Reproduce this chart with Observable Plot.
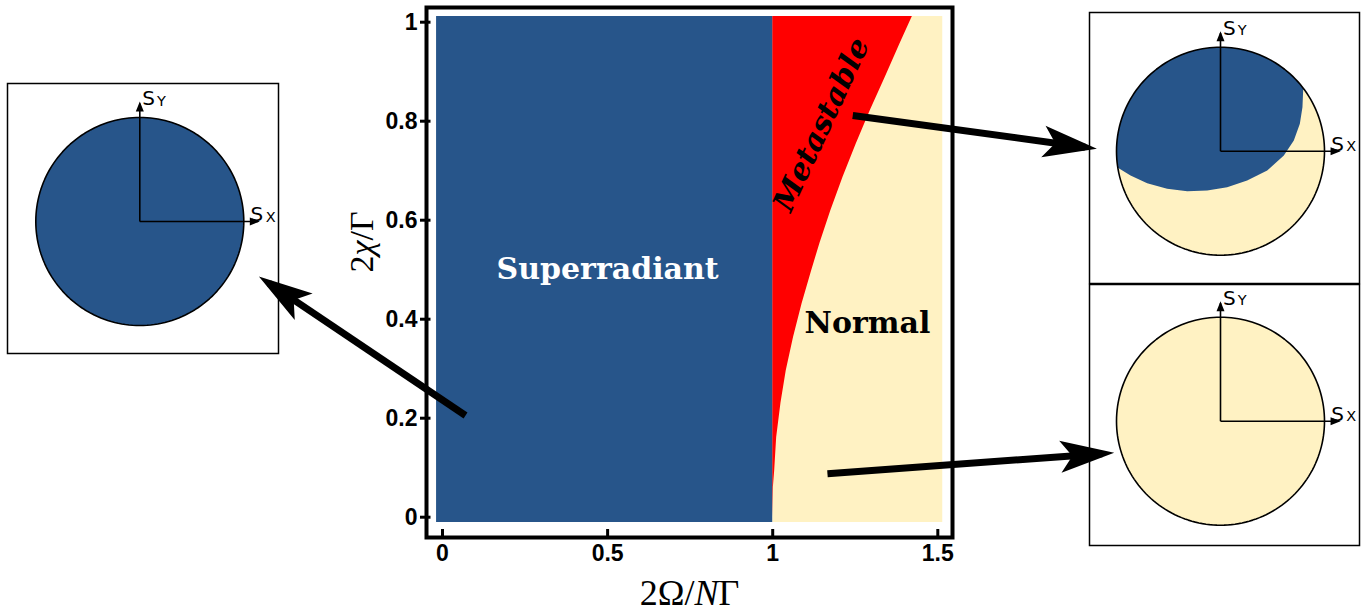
<!DOCTYPE html>
<html><head><meta charset="utf-8">
<script src="https://cdn.jsdelivr.net/npm/d3@7"></script>
<script src="https://cdn.jsdelivr.net/npm/@observablehq/plot@0.6"></script>
<style>
html,body{margin:0;padding:0;background:#fff;}
#root{position:relative;width:1370px;height:616px;overflow:hidden;}
</style></head><body><div id="root"></div>
<script>
// ---------------- data ----------------
const xTicks = [0, 0.5, 1, 1.5];
const yTicks = [0, 0.2, 0.4, 0.6, 0.8, 1];
const xLabel = "2Ω/NΓ";
const yLabel = "2χ/Γ";

// phase regions (in 2Ω/NΓ , 2χ/Γ units)
const regionNames = ["Superradiant", "Normal"];
const regionX1 = [-0.018, 1.0];
const regionX2 = [1.0, 1.515];
const regionY1 = [-0.0107, -0.0107];
const regionY2 = [1.0115, 1.0115];
const regionColors = ["#27558A", "#FFF2C3"];
const metastableColor = "#FF0000";

// metastable / normal boundary
const boundaryY = [0, 0.060, 0.094, 0.161, 0.230, 0.296, 0.363, 0.431, 0.498, 0.553, 0.619, 0.687, 0.754, 0.822, 0.889, 0.957, 1.0115];
const boundaryX = [1.0, 1.002, 1.006, 1.012, 1.025, 1.041, 1.063, 1.089, 1.118, 1.143, 1.176, 1.213, 1.253, 1.296, 1.341, 1.386, 1.423];
const metastableLeftX = 1.0;

// region labels
const labelText = ["Superradiant", "Normal", "Metastable"];
const labelX = [0.5, 1.287, 1.148];
const labelY = [0.5, 0.392, 0.793];

// arrows (main-chart units; they reach out to the insets)
const arrowX1 = [0.0697, 1.2424, 1.1658];
const arrowY1 = [0.2055, 0.8115, 0.0877];
const arrowX2 = [-0.526, 1.9458, 1.998];
const arrowY2 = [0.4727, 0.7475, 0.1283];

// metastable inset: boundary of the superradiant (blue) part, unit-sphere units
const metaBoundaryU = [-0.994, -0.865, -0.705, -0.513, -0.32, -0.128, 0.064, 0.256, 0.449, 0.609, 0.705, 0.763, 0.788, 0.795];
const metaBoundaryV = [-0.154, -0.234, -0.308, -0.362, -0.385, -0.378, -0.346, -0.282, -0.186, -0.042, 0.103, 0.263, 0.423, 0.590];
const axisLength = 1.135;

// ---------------- build ----------------
const root = document.getElementById("root");
const blue = regionColors[0], cream = regionColors[1];

const regions = regionNames.map((name, i) => ({name, x1: regionX1[i], x2: regionX2[i], y1: regionY1[i], y2: regionY2[i]}));
const boundary = boundaryY.map((y, i) => ({y, x: boundaryX[i]}));
const labels = labelText.map((t, i) => ({t, x: labelX[i], y: labelY[i]}));
const arrows = arrowX1.map((x1, i) => ({x1, y1: arrowY1[i], x2: arrowX2[i], y2: arrowY2[i]}));

const circle = d3.range(0, 361, 2).map(a => ({x: Math.cos(a * Math.PI / 180), y: Math.sin(a * Math.PI / 180)}));

function bluePolygon() {
  const pts = metaBoundaryU.map((u, i) => ({x: u, y: metaBoundaryV[i]}));
  const a0 = Math.atan2(pts[pts.length - 1].y, pts[pts.length - 1].x) * 180 / Math.PI;
  let a1 = Math.atan2(pts[0].y, pts[0].x) * 180 / Math.PI;
  if (a1 < a0) a1 += 360;
  const arc = d3.range(a0, a1, 2).concat([a1]).map(a => ({x: Math.cos(a * Math.PI / 180), y: Math.sin(a * Math.PI / 180)}));
  return pts.concat(arc);
}

function addMarker(svgEl, id, d, box) {
  const s = d3.select(svgEl);
  const mk = s.append("defs").append("marker")
    .attr("id", id).attr("markerUnits", "userSpaceOnUse")
    .attr("viewBox", box.join(" ")).attr("markerWidth", box[2]).attr("markerHeight", box[3])
    .attr("refX", 0).attr("refY", 0).attr("orient", "auto").attr("overflow", "visible");
  mk.append("path").attr("d", d).attr("fill", "black");
  s.selectAll('g[aria-label="link"] path').attr("marker-end", `url(#${id})`);
}

function italicize(svgEl, full, parts) {
  d3.select(svgEl).selectAll("text").filter(function () { return this.textContent === full; })
    .each(function () {
      const t = d3.select(this);
      t.text(null);
      parts.forEach(([s, it]) => t.append("tspan").attr("font-style", it ? "italic" : null).text(s));
    });
}

const R = 104;
let insetCount = 0;
function sphere({left, top, right, bottom, cx, cy, base, partial}) {
  const m = 2;
  const marks = [
    Plot.line(circle, {x: "x", y: "y", fill: base, stroke: "none"})
  ];
  if (partial) marks.push(Plot.line(bluePolygon(), {x: "x", y: "y", fill: blue, stroke: "none"}));
  marks.push(
    Plot.line(circle, {x: "x", y: "y", stroke: "black", strokeWidth: 1.6}),
    Plot.link([{x1: 0, y1: 0, x2: 0, y2: axisLength}, {x1: 0, y1: 0, x2: axisLength, y2: 0}],
      {x1: "x1", y1: "y1", x2: "x2", y2: "y2", stroke: "black", strokeWidth: 1.6}),
    Plot.text(["S"], {text: d => d, x: () => 0.023, y: () => 1.12, textAnchor: "start", lineAnchor: "bottom", fontSize: 20, fontFamily: "DejaVu Sans, sans-serif", fill: "black"}),
    Plot.text(["Y"], {text: d => d, x: () => 0.165, y: () => 1.115, textAnchor: "start", lineAnchor: "bottom", fontSize: 14.5, fontFamily: "DejaVu Sans, sans-serif", fill: "black"}),
    Plot.text(["S"], {text: d => d, x: () => 1.064, y: () => 0.005, textAnchor: "start", lineAnchor: "bottom", fontSize: 20, fontFamily: "DejaVu Sans, sans-serif", fill: "black"}),
    Plot.text(["X"], {text: d => d, x: () => 1.21, y: () => 0.0, textAnchor: "start", lineAnchor: "bottom", fontSize: 14.5, fontFamily: "DejaVu Sans, sans-serif", fill: "black"}),
    Plot.frame({stroke: "black", strokeWidth: 1.5})
  );
  const p = Plot.plot({
    width: right - left + 2 * m, height: bottom - top + 2 * m, margin: m,
    x: {domain: [(left - cx) / R, (right - cx) / R], axis: null},
    y: {domain: [(cy - bottom) / R, (cy - top) / R], axis: null},
    style: {background: "transparent", overflow: "visible"},
    marks
  });
  addMarker(p, "small" + (insetCount++), "M2,0L-8,-4L-8,4Z", [-9, -5, 12, 10]);
  p.style.position = "absolute";
  p.style.left = (left - m) + "px";
  p.style.top = (top - m) + "px";
  p.style.maxWidth = "none";
  root.appendChild(p);
}

sphere({left: 7, top: 83, right: 278, bottom: 353, cx: 139.3, cy: 221, base: blue, partial: false});
sphere({left: 1089, top: 12, right: 1359, bottom: 283, cx: 1220, cy: 150.7, base: cream, partial: true});
sphere({left: 1089, top: 284, right: 1359, bottom: 545, cx: 1220, cy: 420.7, base: cream, partial: false});

// main phase diagram
const X0 = -0.0485, X1 = 1.5445, Y0 = -0.0410, Y1 = 1.0297;
const kx = 330.2, ky = 495;
const main = Plot.plot({
  width: 1370, height: 616,
  marginLeft: 426, marginRight: 418, marginTop: 7, marginBottom: 79,
  x: {domain: [X0, X1], axis: null},
  y: {domain: [Y0, Y1], axis: null},
  style: {background: "transparent", overflow: "visible"},
  marks: [
    Plot.rect([regions[1]], {x1: "x1", x2: "x2", y1: "y1", y2: "y2", fill: cream}),
    Plot.areaX(boundary, {y: "y", x1: () => metastableLeftX, x2: "x", fill: metastableColor}),
    Plot.rect([regions[0]], {x1: "x1", x2: "x2", y1: "y1", y2: "y2", fill: blue}),
    Plot.frame({stroke: "black", strokeWidth: 4}),
    Plot.ruleX(xTicks, {x: d => d, y1: () => Y0 - 2 / ky, y2: () => Y0 + 8 / ky, stroke: "black", strokeWidth: 3}),
    Plot.ruleY(yTicks, {y: d => d, x1: () => X0 - 6 / kx, x2: () => X0 + 4.5 / kx, stroke: "black", strokeWidth: 3}),
    Plot.text(xTicks, {x: d => d, text: d => String(d), frameAnchor: "bottom", dy: 16, lineAnchor: "middle",
      fontSize: 23, fontWeight: "bold", fontFamily: "Liberation Sans, Arial, sans-serif", fill: "black"}),
    Plot.text(yTicks, {y: d => d, text: d => String(d), frameAnchor: "left", dx: -9, textAnchor: "end", lineAnchor: "middle",
      fontSize: 23, fontWeight: "bold", fontFamily: "Liberation Sans, Arial, sans-serif", fill: "black"}),
    Plot.text([xLabel], {text: d => d, frameAnchor: "bottom", dy: 56, lineAnchor: "middle",
      fontSize: 36, fontFamily: "Liberation Serif, serif", fill: "black"}),
    Plot.text([yLabel], {text: d => d, frameAnchor: "left", dx: -64, rotate: -90, lineAnchor: "middle",
      fontSize: 34, fontFamily: "Liberation Serif, serif", fill: "black"}),
    Plot.text([labels[0]], {x: "x", y: "y", text: "t", fill: "white", fontSize: 30, fontWeight: "bold", fontFamily: "DejaVu Serif, serif", lineAnchor: "middle"}),
    Plot.text([labels[1]], {x: "x", y: "y", text: "t", fill: "black", fontSize: 30, fontWeight: "bold", fontFamily: "DejaVu Serif, serif", lineAnchor: "middle"}),
    Plot.text([labels[2]], {x: "x", y: "y", text: "t", fill: "black", fontSize: 30, fontWeight: "bold", fontStyle: "italic", fontFamily: "DejaVu Serif, serif", rotate: -65, lineAnchor: "middle"}),
    Plot.link(arrows, {x1: "x1", y1: "y1", x2: "x2", y2: "y2", stroke: "black", strokeWidth: 7})
  ]
});
main.style.position = "absolute";
main.style.left = "0px";
main.style.top = "0px";
main.style.maxWidth = "none";
addMarker(main, "bighead", "M12,0L-42,-16L-30,0L-42,16Z", [-44, -17, 58, 34]);
italicize(main, xLabel, [["2Ω/", false], ["N", true], ["Γ", false]]);
italicize(main, yLabel, [["2", false], ["χ", true], ["/Γ", false]]);
root.appendChild(main);
</script></body></html>
